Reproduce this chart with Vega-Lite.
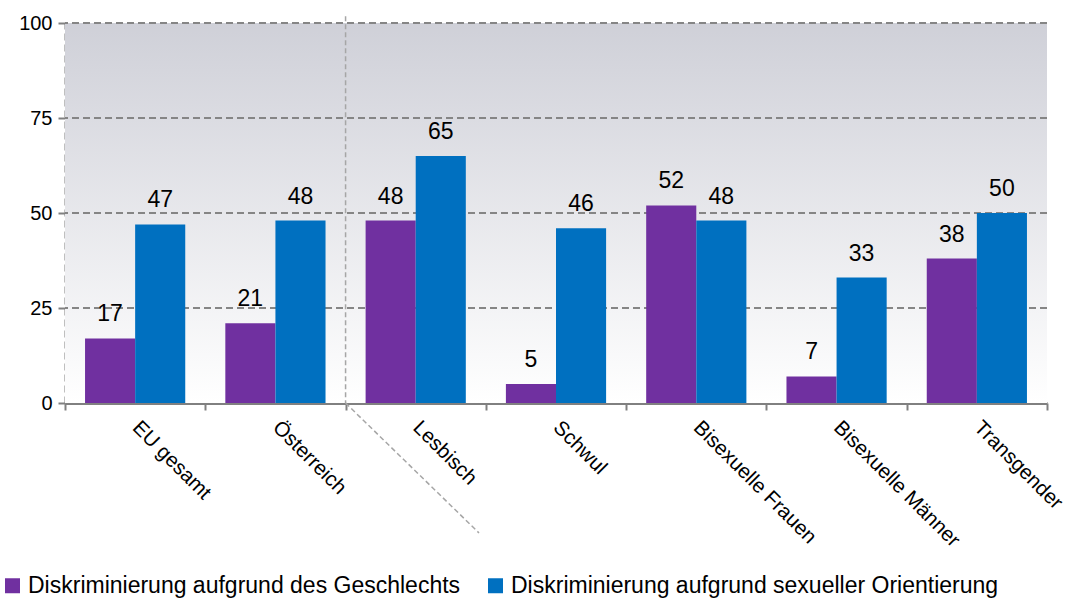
{
  "$schema": "https://vega.github.io/schema/vega-lite/v6.json",
  "width": 982,
  "height": 380,
  "autosize": {"type": "none"},
  "padding": {"left": 65, "top": 23, "right": 21, "bottom": 197},
  "config": {
    "view": {"stroke": null},
    "font": "Liberation Sans",
    "axisX": {
      "zindex": 1, "tickBand": "extent", "labelAngle": 45, "labelAlign": "left", "labelBaseline": "middle",
      "labelFontSize": 20.5, "labelColor": "#000000", "labelPadding": 14,
      "domainColor": "#808080", "domainWidth": 3, "tickColor": "#808080", "tickWidth": 2, "tickSize": 7
    },
    "axisY": {
      "zindex": 1, "grid": false,
      "labelFontSize": 20, "labelColor": "#000000", "labelPadding": 6,
      "domainColor": "#808080", "domainWidth": 2, "domainDash": [7, 4],
      "tickColor": "#808080", "tickWidth": 2, "tickSize": 7
    }
  },
  "datasets": {
    "bars": [
      {"cat": "EU gesamt", "series": "Diskriminierung aufgrund des Geschlechts", "value": 17},
      {"cat": "EU gesamt", "series": "Diskriminierung aufgrund sexueller Orientierung", "value": 47},
      {"cat": "Österreich", "series": "Diskriminierung aufgrund des Geschlechts", "value": 21},
      {"cat": "Österreich", "series": "Diskriminierung aufgrund sexueller Orientierung", "value": 48},
      {"cat": "Lesbisch", "series": "Diskriminierung aufgrund des Geschlechts", "value": 48},
      {"cat": "Lesbisch", "series": "Diskriminierung aufgrund sexueller Orientierung", "value": 65},
      {"cat": "Schwul", "series": "Diskriminierung aufgrund des Geschlechts", "value": 5},
      {"cat": "Schwul", "series": "Diskriminierung aufgrund sexueller Orientierung", "value": 46},
      {"cat": "Bisexuelle Frauen", "series": "Diskriminierung aufgrund des Geschlechts", "value": 52},
      {"cat": "Bisexuelle Frauen", "series": "Diskriminierung aufgrund sexueller Orientierung", "value": 48},
      {"cat": "Bisexuelle Männer", "series": "Diskriminierung aufgrund des Geschlechts", "value": 7},
      {"cat": "Bisexuelle Männer", "series": "Diskriminierung aufgrund sexueller Orientierung", "value": 33},
      {"cat": "Transgender", "series": "Diskriminierung aufgrund des Geschlechts", "value": 38},
      {"cat": "Transgender", "series": "Diskriminierung aufgrund sexueller Orientierung", "value": 50}
    ],
    "grid": [{"value": 25}, {"value": 50}, {"value": 75}, {"value": 100}],
    "sepv": [{"cat": "Lesbisch", "value": 101.8, "value2": 0}],
    "sepd": [{"cat": "Lesbisch", "cat2": "Schwul", "value": 0, "value2": -34.2}]
  },
  "layer": [
    {
      "data": {"values": [{}]},
      "mark": {
        "type": "rect",
        "fill": {
          "gradient": "linear", "x1": 0, "y1": 0, "x2": 0, "y2": 1,
          "stops": [{"offset": 0, "color": "#cfd0d8"}, {"offset": 1, "color": "#ffffff"}]
        }
      },
      "encoding": {
        "x": {"value": 0}, "x2": {"value": "width"},
        "y": {"value": 0}, "y2": {"value": "height"}
      }
    },
    {
      "data": {"name": "grid"},
      "mark": {"type": "rule", "color": "#858585", "strokeWidth": 2, "strokeDash": [7, 4]},
      "encoding": {
        "y": {"field": "value", "type": "quantitative", "title": null, "scale": {"domain": [0, 100], "nice": false, "zero": false}, "axis": {"values": [0, 25, 50, 75, 100]}}
      }
    },
    {
      "data": {"name": "bars"},
      "mark": {"type": "bar"},
      "encoding": {
        "x": {
          "field": "cat", "type": "nominal", "title": null,
          "sort": ["EU gesamt", "Österreich", "Lesbisch", "Schwul", "Bisexuelle Frauen", "Bisexuelle Männer", "Transgender"],
          "scale": {"paddingInner": 0, "paddingOuter": 0}
        },
        "xOffset": {
          "field": "series", "type": "nominal",
          "scale": {"paddingInner": 0, "paddingOuter": 0.4}
        },
        "y": {
          "field": "value", "type": "quantitative", "title": null,
          "scale": {"domain": [0, 100], "nice": false, "zero": false},
          "axis": {"values": [0, 25, 50, 75, 100]}
        },
        "color": {
          "field": "series", "type": "nominal", "title": null,
          "scale": {
            "domain": ["Diskriminierung aufgrund des Geschlechts", "Diskriminierung aufgrund sexueller Orientierung"],
            "range": ["#7030a0", "#0070c0"]
          },
          "legend": {
            "orient": "none", "direction": "horizontal", "legendX": -64, "legendY": 551,
            "symbolType": "square", "symbolSize": 225, "symbolStrokeWidth": 0, "symbolOpacity": 1,
            "labelFontSize": 23, "labelColor": "#000000", "labelOffset": 4, "columnPadding": 23,
            "labelLimit": 600
          }
        }
      }
    },
    {
      "data": {"name": "bars"},
      "mark": {"type": "text", "fontSize": 23, "color": "#000000", "baseline": "alphabetic", "dy": -17},
      "encoding": {
        "x": {"field": "cat", "type": "nominal", "title": null,
          "sort": ["EU gesamt", "Österreich", "Lesbisch", "Schwul", "Bisexuelle Frauen", "Bisexuelle Männer", "Transgender"]},
        "xOffset": {"field": "series", "type": "nominal"},
        "y": {"field": "value", "type": "quantitative", "title": null, "scale": {"domain": [0, 100], "nice": false, "zero": false}},
        "text": {"field": "value", "type": "quantitative"}
      }
    },
    {
      "data": {"name": "sepv"},
      "mark": {"type": "rule", "color": "#a6a6a6", "strokeWidth": 1.5, "strokeDash": [5, 3]},
      "encoding": {
        "x": {"field": "cat", "type": "nominal", "title": null, "bandPosition": 0,
          "sort": ["EU gesamt", "Österreich", "Lesbisch", "Schwul", "Bisexuelle Frauen", "Bisexuelle Männer", "Transgender"]},
        "y": {"field": "value", "type": "quantitative", "title": null, "scale": {"domain": [0, 100], "nice": false, "zero": false}},
        "y2": {"field": "value2"}
      }
    },
    {
      "data": {"name": "sepd"},
      "mark": {"type": "rule", "color": "#a6a6a6", "strokeWidth": 1.5, "strokeDash": [5, 3], "x2Offset": -77},
      "encoding": {
        "x": {"field": "cat", "type": "nominal", "title": null, "bandPosition": 0,
          "sort": ["EU gesamt", "Österreich", "Lesbisch", "Schwul", "Bisexuelle Frauen", "Bisexuelle Männer", "Transgender"]},
        "x2": {"field": "cat2"},
        "y": {"field": "value", "type": "quantitative", "title": null, "scale": {"domain": [0, 100], "nice": false, "zero": false}},
        "y2": {"field": "value2"}
      }
    }
  ]
}
